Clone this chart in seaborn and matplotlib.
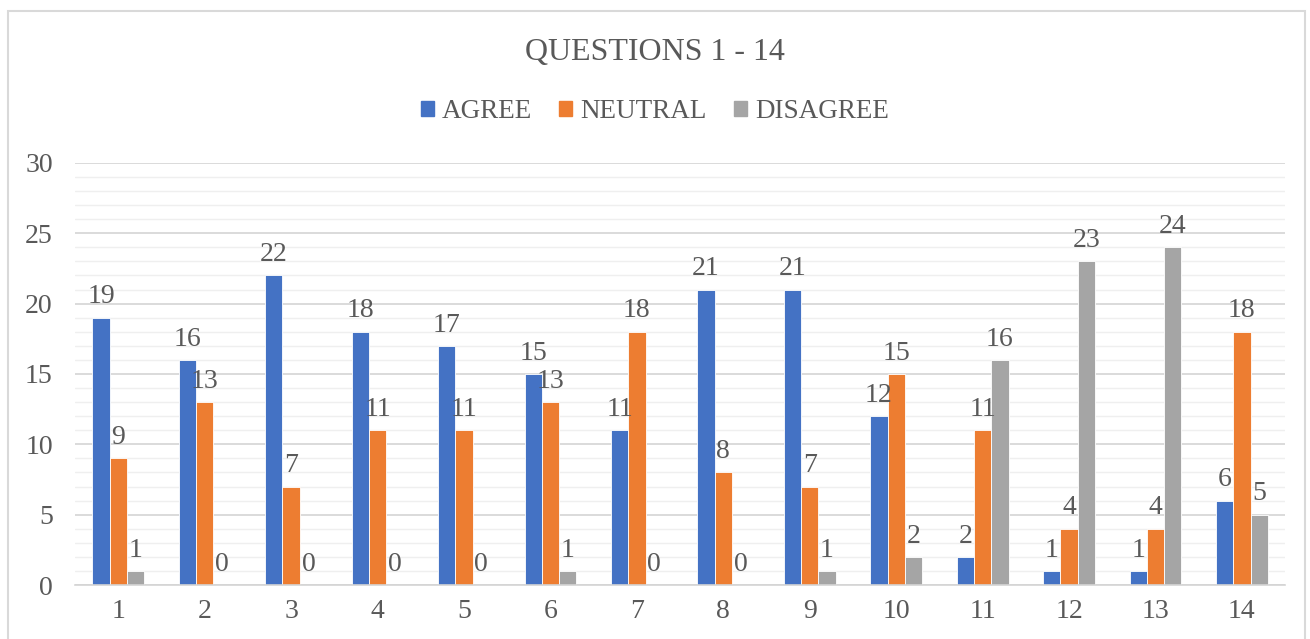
import seaborn as sns
import matplotlib.pyplot as plt
import matplotlib as mpl
import pandas as pd

# Data
questions = [str(i) for i in range(1, 15)]
agree = [19, 16, 22, 18, 17, 15, 11, 21, 21, 12, 2, 1, 1, 6]
neutral = [9, 13, 7, 11, 11, 13, 18, 8, 7, 15, 11, 4, 4, 18]
disagree = [1, 0, 0, 0, 0, 1, 0, 0, 1, 2, 16, 23, 24, 5]
responses = ["AGREE", "NEUTRAL", "DISAGREE"]
color_palette = ["#4472C4", "#ED7D31", "#A5A5A5"]

text_color = "#595959"

df = pd.DataFrame({
    "question": questions * 3,
    "count": agree + neutral + disagree,
    "response": [r for r in responses for _ in questions],
})

sns.set_theme(style="white")
plt.rcParams["font.family"] = ["Liberation Serif", "DejaVu Serif"]

fig = plt.figure(figsize=(13.1, 6.39), dpi=100)
ax = fig.add_axes([0.0573, 0.0845, 0.9237, 0.6605])

sns.barplot(data=df, x="question", y="count", hue="response", palette=color_palette,
            width=0.6, ax=ax, edgecolor="white", linewidth=0.6, saturation=1)

ax.set_ylim(0, 30)
ax.set_xlim(-0.5, 13.5)
ax.set_yticks(range(0, 31, 5))
ax.set_yticks(range(0, 31, 1), minor=True)
ax.grid(axis="y", which="major", color="#D4D4D4", linewidth=1.2)
ax.grid(axis="y", which="minor", color="#EFEFEF", linewidth=1.0)
ax.set_axisbelow(True)
for side in ["top", "right", "left"]:
    ax.spines[side].set_visible(False)
ax.spines["bottom"].set_color("#D4D4D4")
ax.spines["bottom"].set_linewidth(1.2)

ax.tick_params(axis="both", which="both", length=0, labelsize=20, labelcolor=text_color)
ax.tick_params(axis="y", pad=16)
ax.tick_params(axis="x", pad=10)
ax.set_xlabel(None)
ax.set_ylabel(None)

for cont in ax.containers:
    ax.bar_label(cont, fmt="%d", fontsize=20, color=text_color, padding=6)

# legend above the plot
ax.get_legend().remove()
handles = [mpl.patches.Patch(color=c) for c in color_palette]
fig.legend(handles, responses, loc="center", bbox_to_anchor=(0.5, 0.826), ncol=3,
           frameon=False, fontsize=19.5, labelcolor=text_color, handlelength=0.48,
           handleheight=0.48, handletextpad=0.3, columnspacing=1.0)

fig.text(0.5, 0.918, "QUESTIONS 1 - 14", ha="center", va="center", fontsize=23, color=text_color)

# chart frame
frame = mpl.patches.Rectangle((8 / 1310, -0.05), 1297 / 1310, 1.0 - 11 / 639 + 0.05,
                              transform=fig.transFigure, fill=False,
                              edgecolor="#D9D9D9", linewidth=1.5)
fig.add_artist(frame)

plt.savefig("out.png", dpi=100)
plt.close()
